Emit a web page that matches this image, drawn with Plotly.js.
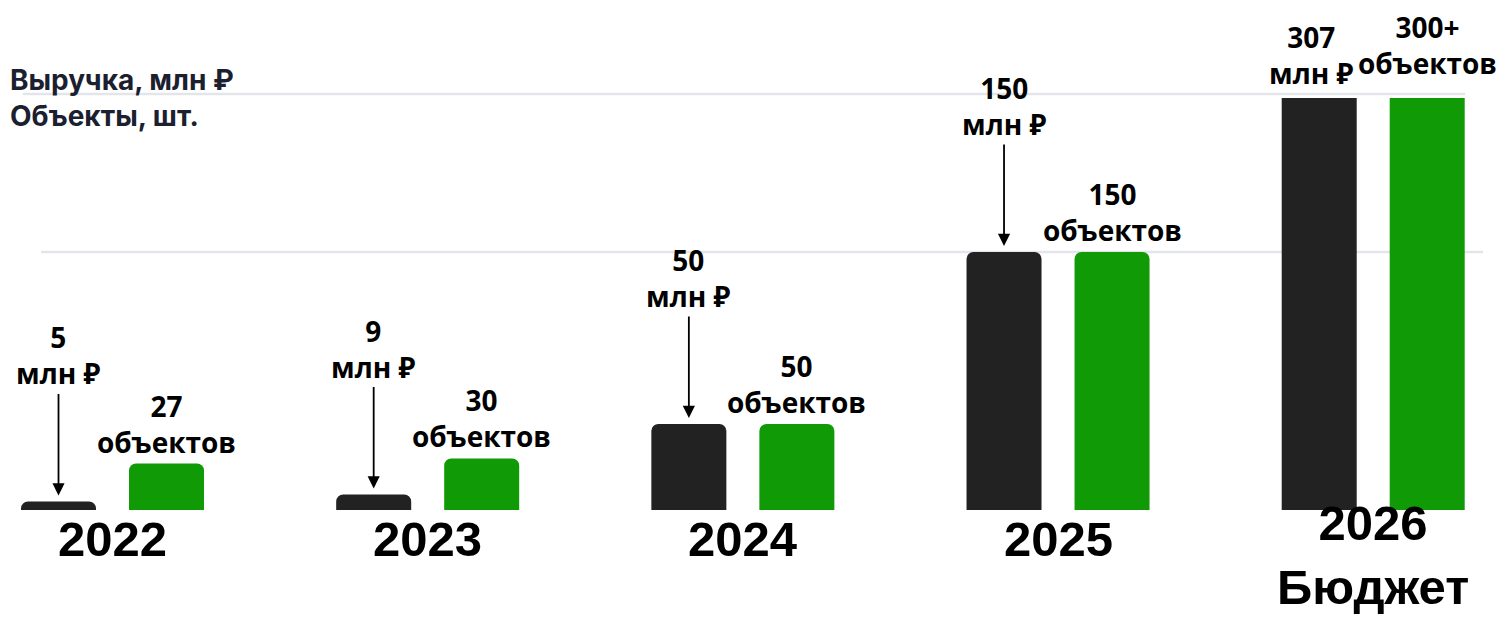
<!DOCTYPE html>
<html>
<head>
<meta charset="utf-8">
<script src="https://cdn.plot.ly/plotly-3.0.1.min.js"></script>
<style>
  html, body { margin: 0; padding: 0; background: #ffffff; }
  #chart { width: 1504px; height: 618px; }
</style>
</head>
<body>
<div id="chart"></div>
<script>
// ---- data ----
const years = ['2022', '2023', '2024', '2025', '2026'];
const yearLabels = ['2022', '2023', '2024', '2025', '2026<br>Бюджет'];
const revenue = [5, 9, 50, 150, 307];            // Выручка, млн ₽
const revenueLabels = ['5', '9', '50', '150', '307'];
const revenueUnit = 'млн ₽';
const objects = [27, 30, 50, 150, 300];          // Объекты, шт.
const objectsLabels = ['27', '30', '50', '150', '300+'];
const objectsUnit = 'объектов';
const gridValues = [150];
const legendTitle = 'Выручка, млн ₽<br>Объекты, шт.';

// ---- style ----
const W = 1504, H = 618;
const M = { l: 0, r: 0, t: 98, b: 108 };
const yMax = 239.5;
const BLACK = '#222222', GREEN = '#109a06';
const bargap = 0.3146, bargroupgap = 0.3056;
const slot = (1 - bargap) / 2;
const labelFont = { family: 'Open Sans, Noto Sans, sans-serif', size: 28, color: '#000000', weight: 700 };
const yearFont = { family: 'Liberation Sans, Arial, sans-serif', size: 49, color: '#000000', weight: 700 };
const plotH = H - M.t - M.b;
const pxY = (py) => (H - M.b - py) / plotH;   // page pixel -> paper y

const traces = [
  {
    type: 'bar', x: years, y: revenue, name: 'Выручка, млн ₽',
    marker: { color: BLACK, cornerradius: 7 }, hoverinfo: 'skip'
  },
  {
    type: 'bar', x: years, y: objects, name: 'Объекты, шт.',
    marker: { color: GREEN, cornerradius: 7 }, hoverinfo: 'skip'
  }
];

const annotations = [];
years.forEach((yr, i) => {
  const xb = i - slot / 2, xg = i + slot / 2;
  const yb = Math.min(revenue[i], yMax), yg = Math.min(objects[i], yMax);
  const bText = revenueLabels[i] + '<br>' + revenueUnit;
  const gText = objectsLabels[i] + '<br>' + objectsUnit;
  if (revenue[i] < yMax) {
    annotations.push({
      x: xb, y: yb, xref: 'x', yref: 'y', text: bText, font: labelFont,
      showarrow: true, arrowhead: 2, arrowsize: 1.35, arrowwidth: 1.8,
      arrowcolor: '#000000', ax: 0, ay: -146, standoff: 6
    });
  } else {
    annotations.push({
      x: xb, y: yb, xref: 'x', yref: 'y', text: bText, font: labelFont,
      showarrow: false, yanchor: 'bottom', yshift: 4, xshift: -8
    });
  }
  annotations.push({
    x: xg, y: yg, xref: 'x', yref: 'y', text: gText, font: labelFont,
    showarrow: false, yanchor: 'bottom', yshift: objects[i] < yMax ? 1 : 14
  });
  // year label under each group (two-line label lifted slightly to fit the page)
  const multi = yearLabels[i].indexOf('<br>') >= 0;
  annotations.push({
    x: i, xref: 'x', yref: 'paper', y: pxY(multi ? 494 : 510), yanchor: 'top',
    text: yearLabels[i], font: yearFont, showarrow: false
  });
});

annotations.push({
  xref: 'paper', yref: 'paper', x: 8 / W, y: pxY(97.5),
  xanchor: 'left', yanchor: 'middle', align: 'left', showarrow: false,
  text: legendTitle,
  font: { family: 'Inter, Noto Sans, sans-serif', size: 28, color: '#1b1f30', weight: 700 }
});

const shapes = [
  { type: 'line', layer: 'below', xref: 'paper', yref: 'paper',
    x0: 23 / W, x1: 1465 / W, y0: pxY(94), y1: pxY(94),
    line: { color: '#e4e5ea', width: 2.5 } }
];
gridValues.forEach(v => shapes.push({
  type: 'line', layer: 'below', xref: 'paper', yref: 'y',
  x0: 41 / W, x1: 1483 / W, y0: v, y1: v,
  line: { color: '#e4e5ea', width: 2.5 }
}));

const layout = {
  width: W, height: H,
  margin: { l: M.l, r: M.r, t: M.t, b: M.b, pad: 0 },
  paper_bgcolor: '#ffffff', plot_bgcolor: '#ffffff',
  barmode: 'group', bargap: bargap, bargroupgap: bargroupgap,
  showlegend: false,
  xaxis: {
    type: 'category', range: [-0.357, 4.415],
    showticklabels: false,
    ticks: '', showline: false, showgrid: false, zeroline: false, fixedrange: true
  },
  yaxis: {
    range: [0, yMax], showgrid: false, zeroline: false,
    showticklabels: false, showline: false, ticks: '', fixedrange: true
  },
  annotations: annotations,
  shapes: shapes
};

Plotly.newPlot('chart', traces, layout, { displayModeBar: false, staticPlot: true });
</script>
</body>
</html>
